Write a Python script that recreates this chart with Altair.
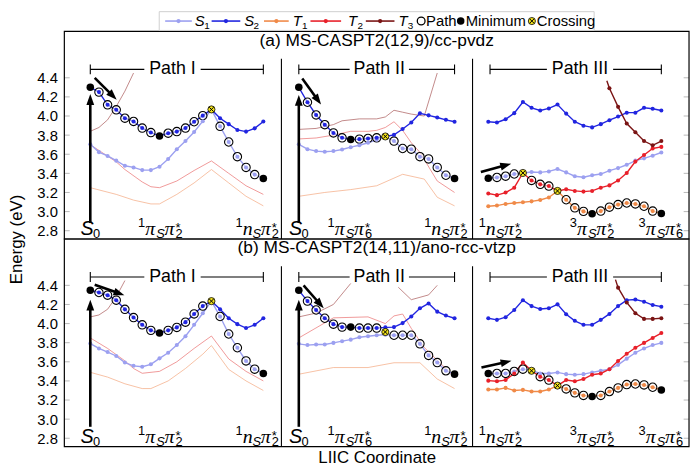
import math
import altair as alt
import pandas as pd

FONT = "Liberation Sans"
SERIF = "Liberation Serif"

SERIES = ["S1", "S2", "T1", "T2", "T3"]
COLORS = ["#9ca0f0", "#2125e0", "#f08a48", "#e8202a", "#7a1414"]
THIN_COLORS = ["#9ca0f0", "#2125e0", "#f3a47a", "#e96a6a", "#a65252"]

ROW_TITLES = {"a": "(a) MS-CASPT2(12,9)/cc-pvdz", "b": "(b) MS-CASPT2(14,11)/ano-rcc-vtzp"}
PATH_NAMES = ["Path I", "Path II", "Path III"]
Y_TICKS = [2.8, 3.0, 3.2, 3.4, 3.6, 3.8, 4.0, 4.2, 4.4]

# ---------------- row (a) : MS-CASPT2(12,9)/cc-pvdz ----------------
A1_S1 = [3.704, 3.622, 3.582, 3.533, 3.479, 3.462, 3.434, 3.434, 3.469, 3.551, 3.653,
         3.738, 3.833, 3.946, 4.069, 3.892, 3.728, 3.574, 3.462, 3.387, 3.346]
A1_S2 = [4.300, 4.250, 4.117, 4.065, 3.977, 3.943, 3.874, 3.827, 3.792, 3.820, 3.837,
         3.874, 3.940, 4.004, 4.069, 3.976, 3.915, 3.854, 3.837, 3.871, 3.943]
A2_S1 = [3.704, 3.653, 3.633, 3.626, 3.633, 3.650, 3.674, 3.694, 3.720, 3.751, 3.786,
         3.738, 3.660, 3.653, 3.574, 3.551, 3.462, 3.380, 3.346]
A2_S2 = [4.300, 4.144, 4.011, 3.909, 3.823, 3.772, 3.755, 3.758, 3.765, 3.772, 3.786,
         3.803, 3.864, 3.932, 4.028, 4.007, 3.984, 3.960, 3.940]
A3_S1 = [3.349, 3.357, 3.370, 3.393, 3.404, 3.414, 3.410, 3.420, 3.445, 3.410, 3.370,
         3.360, 3.380, 3.393, 3.428, 3.455, 3.490, 3.533, 3.557, 3.585, 3.618]
A3_S2 = [3.940, 3.932, 3.966, 4.030, 4.147, 4.086, 4.058, 4.079, 4.120, 4.025, 3.940,
         3.899, 3.881, 3.915, 3.956, 3.994, 4.035, 4.035, 4.086, 4.076, 4.058]
A3_T1 = [3.056, 3.063, 3.080, 3.090, 3.097, 3.107, 3.121, 3.148, 3.216, 3.124, 3.039,
         3.002, 2.978, 3.005, 3.046, 3.073, 3.090, 3.080, 3.056, 3.005, 2.981]
A3_T2 = [3.189, 3.172, 3.199, 3.250, 3.404, 3.326, 3.285, 3.267, 3.216, 3.233, 3.216,
         3.209, 3.216, 3.250, 3.274, 3.326, 3.404, 3.523, 3.592, 3.660, 3.677]
A3_T3_X = [13.7, 14, 15, 16, 17, 18, 19, 20]
A3_T3 = [4.37, 4.29, 4.096, 3.922, 3.830, 3.738, 3.694, 3.738]
# spectator states drawn as thin lines
A1_T1_X = [0, 3, 5, 7, 8, 10, 12, 14, 16, 18, 20]
A1_T1 = [3.25, 3.18, 3.12, 3.08, 3.08, 3.18, 3.30, 3.44, 3.30, 3.16, 3.06]
A1_T2_X = [0, 2, 3, 4, 6, 7, 8, 10, 12, 14, 16, 18, 20]
A1_T2 = [3.70, 3.58, 3.52, 3.44, 3.31, 3.26, 3.25, 3.32, 3.43, 3.53, 3.40, 3.27, 3.18]
A1_T3_X = [0, 1, 2, 3, 4, 5]
A1_T3 = [3.84, 3.88, 3.96, 4.10, 4.26, 4.45]
A2_T1_X = [0, 3, 6, 9, 12, 14.5, 16, 18]
A2_T1 = [3.16, 3.20, 3.23, 3.27, 3.39, 3.34, 3.15, 3.06]
A2_T2_X = [0, 2, 4, 6, 8, 9, 10, 11, 12, 13, 14, 16, 18]
A2_T2 = [3.76, 3.77, 3.80, 3.84, 3.84, 3.85, 3.88, 3.94, 3.85, 3.72, 3.62, 3.32, 3.20]
A2_T3_X = [0, 2, 4, 5, 7, 9, 10, 11, 12, 13, 14.5, 16]
A2_T3 = [3.86, 3.87, 3.91, 3.95, 3.97, 3.97, 3.99, 4.06, 4.04, 4.02, 4.00, 4.45]

# ---------------- row (b) : MS-CASPT2(14,11)/ano-rcc-vtzp ----------------
B1_S1 = [3.791, 3.740, 3.702, 3.661, 3.592, 3.558, 3.548, 3.574, 3.636, 3.695, 3.775,
         3.867, 3.987, 4.108, 4.235, 4.074, 3.891, 3.747, 3.609, 3.523, 3.478]
B1_S2 = [4.348, 4.325, 4.297, 4.245, 4.149, 4.063, 3.987, 3.929, 3.901, 3.929, 3.960,
         4.015, 4.101, 4.183, 4.235, 4.149, 4.056, 3.994, 3.953, 3.987, 4.056]
B2_S1 = [3.788, 3.775, 3.781, 3.781, 3.798, 3.816, 3.832, 3.857, 3.867, 3.878, 3.884,
         3.878, 3.878, 3.878, 3.788, 3.667, 3.592, 3.506, 3.471]
B2_S2 = [4.348, 4.235, 4.142, 4.056, 3.994, 3.963, 3.963, 3.953, 3.953, 3.953, 3.960,
         3.963, 4.005, 4.074, 4.160, 4.211, 4.125, 4.084, 4.056]
B3_S1 = [3.478, 3.478, 3.478, 3.499, 3.523, 3.510, 3.478, 3.478, 3.489, 3.471, 3.465,
         3.471, 3.489, 3.506, 3.523, 3.568, 3.633, 3.695, 3.740, 3.775, 3.798]
B3_S2 = [4.056, 4.039, 4.067, 4.142, 4.245, 4.183, 4.152, 4.160, 4.201, 4.098, 4.029,
         3.987, 3.987, 4.039, 4.101, 4.183, 4.245, 4.252, 4.229, 4.194, 4.177]
B3_T1 = [3.310, 3.310, 3.327, 3.300, 3.306, 3.289, 3.289, 3.310, 3.351, 3.316, 3.275,
         3.248, 3.238, 3.248, 3.289, 3.327, 3.362, 3.368, 3.358, 3.334, 3.306]
B3_T2 = [3.403, 3.396, 3.409, 3.478, 3.592, 3.506, 3.444, 3.409, 3.351, 3.409, 3.396,
         3.420, 3.465, 3.478, 3.523, 3.609, 3.685, 3.747, 3.798, 3.850, 3.901]
B3_T3_X = [14.7, 15, 16, 17, 18, 19, 20]
B3_T3 = [4.46, 4.376, 4.221, 4.108, 4.049, 4.049, 4.056]
B1_T1_X = [0, 2, 4, 6, 7, 9, 11, 13, 14, 16, 18, 20]
B1_T1 = [3.49, 3.44, 3.37, 3.32, 3.32, 3.40, 3.53, 3.68, 3.77, 3.52, 3.40, 3.30]
B1_T2_X = [0, 2, 4, 5, 6, 8, 10, 12, 14, 16, 18, 20]
B1_T2 = [3.85, 3.74, 3.61, 3.53, 3.48, 3.50, 3.60, 3.74, 3.87, 3.63, 3.50, 3.40]
B1_T3_X = [0, 1, 2, 3, 4]
B1_T3 = [4.07, 4.09, 4.15, 4.28, 4.45]
B2_T1_X = [0, 4, 8, 11, 14, 16, 18]
B2_T1 = [3.47, 3.54, 3.54, 3.59, 3.59, 3.42, 3.32]
B2_T2_X = [0, 4, 8, 10, 11, 12, 13, 14.5, 18]
B2_T2 = [3.85, 4.06, 4.07, 4.00, 4.08, 4.10, 3.95, 3.75, 3.44]
B2_T3_X = [0, 2, 4, 6]
B2_T3 = [4.07, 4.11, 4.20, 4.42]
B2_T3B_X = [11.5, 13, 15, 16]
B2_T3B = [4.38, 4.25, 4.30, 4.40]

MAIN = {
    "a": [(1, "S1", None, A1_S1), (1, "S2", None, A1_S2), (2, "S1", None, A2_S1), (2, "S2", None, A2_S2),
          (3, "S1", None, A3_S1), (3, "S2", None, A3_S2), (3, "T1", None, A3_T1), (3, "T2", None, A3_T2),
          (3, "T3", A3_T3_X, A3_T3)],
    "b": [(1, "S1", None, B1_S1), (1, "S2", None, B1_S2), (2, "S1", None, B2_S1), (2, "S2", None, B2_S2),
          (3, "S1", None, B3_S1), (3, "S2", None, B3_S2), (3, "T1", None, B3_T1), (3, "T2", None, B3_T2),
          (3, "T3", B3_T3_X, B3_T3)],
}
THIN = {
    "a": [(1, "T1", A1_T1_X, A1_T1), (1, "T2", A1_T2_X, A1_T2), (1, "T3", A1_T3_X, A1_T3),
          (2, "T1", A2_T1_X, A2_T1), (2, "T2", A2_T2_X, A2_T2), (2, "T3", A2_T3_X, A2_T3)],
    "b": [(1, "T1", B1_T1_X, B1_T1), (1, "T2", B1_T2_X, B1_T2), (1, "T3", B1_T3_X, B1_T3),
          (2, "T1", B2_T1_X, B2_T1), (2, "T2", B2_T2_X, B2_T2), (2, "T3", B2_T3_X, B2_T3),
          (2, "T3", B2_T3B_X, B2_T3B)],
}
PATH = {
    "a": [(1, "S2", [1, 2, 3, 4, 5, 6, 7, 9, 10, 11, 12, 13]), (1, "S1", [15, 16, 17, 18, 19]),
          (2, "S2", [1, 2, 3, 4, 5, 7, 8, 9]), (2, "S1", [11, 12, 13, 14, 15, 16, 17]),
          (3, "S1", [1, 2, 3]), (3, "T2", [5, 6, 7]),
          (3, "T1", [9, 10, 11, 13, 14, 15, 16, 17, 18, 19])],
    "b": [(1, "S2", [1, 2, 3, 4, 5, 6, 7, 9, 10, 11, 12, 13]), (1, "S1", [15, 16, 17, 18, 19]),
          (2, "S2", [1, 2, 3, 4, 5, 7, 8, 9]), (2, "S1", [11, 12, 13, 14, 15, 16, 17]),
          (3, "S1", [1, 2, 3, 4]), (3, "T2", [6, 7]),
          (3, "T1", [9, 10, 11, 13, 14, 15, 16, 17, 18, 19])],
}
MINIMA = [(1, "S2", 0), (1, "S2", 8), (1, "S1", 20), (2, "S2", 0), (2, "S2", 6), (2, "S1", 18),
          (3, "S1", 0), (3, "T1", 12), (3, "T1", 20)]
CROSS = {
    "a": [(1, 14, 4.069), (2, 10, 3.786), (3, 4, 3.404), (3, 8, 3.216)],
    "b": [(1, 14, 4.235), (2, 10, 3.912), (3, 5, 3.506), (3, 8, 3.351)],
}
# arrows: (panel, x0, e0, x1, e1)  -- tip at (x1, e1)
ARROWS = {
    "a": [(1, 0.0, 2.88, 0.0, 4.23), (2, 0.0, 2.88, 0.0, 4.22),
          (1, 0.51, 4.40, 3.05, 4.17), (2, 0.40, 4.393, 2.57, 4.12), (3, -0.86, 3.414, 2.64, 3.50)],
    "b": [(1, 0.0, 2.92, 0.0, 4.25), (2, 0.0, 2.92, 0.0, 4.25),
          (1, 0.51, 4.407, 3.94, 4.297), (2, 0.55, 4.40, 2.88, 4.16), (3, -0.79, 3.54, 2.68, 3.61)],
}
BRACKET_START = [0.0, 0.0, 0.2]
BRACKET_END = [20.0, 18.0, 20.0]
BRACKET_TEXT_X = [9.5, 9.3, 10.6]
BRACKET_GAP_PX = [57, 60, 67]
BRACKET_E = 4.488
# bottom state labels: (panel, centre, kind)
STATE_LABELS = [(1, 0.0, "S0"), (1, 8.1, ("1", "π", "2")), (1, 19.3, ("1", "n", "2")),
                (2, 0.0, "S0"), (2, 5.9, ("1", "π", "6")), (2, 17.0, ("1", "n", "2")),
                (3, 1.4, ("1", "n", "2")), (3, 12.0, ("3", "π", "2")), (3, 19.95, ("3", "π", "6"))]

# ---------------- layout ----------------
X_MIN, X_MAX = -3.0, 69.2
Y_MIN, Y_MAX = 2.713, 4.885
ROW_SPAN = Y_MAX - Y_MIN
ROW_OFF = {"a": ROW_SPAN, "b": 0.0}
PLOT_W = 632
ROW_PX = 210
LEG_PX = 21
PLOT_H = 2 * ROW_PX + LEG_PX
SY = ROW_PX / ROW_SPAN
TOP = Y_MAX + ROW_SPAN + LEG_PX / SY
COL_OFFSET = [0.0, 24.1, 46.0]
SEPARATORS = [22.09, 44.18]
SEP_TOP = 4.60
SX = PLOT_W / (X_MAX - X_MIN)

# legend (pixel positions measured from the left / top of the plot area)
LEG_BOX = [96, 536, 1, 20]
LEG_Y = 10.5
LEG_LINE_X0 = [102, 149, 202, 249, 305]
LEG_LINE_X1 = [129, 178, 227, 280, 334]
LEG_LABEL_X = [132, 182, 231, 287, 338]
LEG_LETTERS = ["S", "S", "T", "T", "T"]
LEG_SUBS = ["1", "2", "1", "2", "3"]
LEG_SYM_X = [361, 401, 473]
LEG_SYM_TEXT = ["Path", "Minimum", "Crossing"]

HEAD = "M0,-1L0.72,1L-0.72,1Z"
XSHAPE = "M-0.62,-0.62L0.62,0.62M-0.62,0.62L0.62,-0.62"
YELLOW = "#f2e21c"

cscale = alt.Scale(domain=SERIES, range=COLORS)
thin_scale = alt.Scale(domain=SERIES, range=THIN_COLORS)
xsc = alt.Scale(domain=[X_MIN, X_MAX], nice=False, zero=False)
ysc = alt.Scale(domain=[Y_MIN, TOP], nice=False, zero=False)

tick_vals = sorted(round(t + ROW_OFF[r], 4) for r in ["a", "b"] for t in Y_TICKS)
label_expr = f"format(datum.value > {Y_MAX} ? datum.value - {ROW_SPAN} : datum.value, '.1f')"
Y_AXIS = alt.Axis(values=tick_vals, labelExpr=label_expr, labelFontSize=15, labelPadding=7,
                  labelColor="black", labelFont=FONT, ticks=False, domain=False, grid=False,
                  title="Energy (eV)", titleFontSize=17, titleFontWeight="normal", titleColor="black",
                  titleFont=FONT, titleX=-48, titleY=LEG_PX + ROW_PX, titleAlign="center",
                  titleBaseline="middle")
X_AXIS = alt.Axis(title="LIIC Coordinate", labels=False, ticks=False, domain=False, grid=False,
                  titleFontSize=17, titleFontWeight="normal", titlePadding=3, titleColor="black",
                  titleFont=FONT)


def gx(panel, i):
    return COL_OFFSET[panel - 1] + i


def px_x(px):
    return X_MIN + px / SX


def px_y(py):
    return TOP - py / SY


def series_value(r, panel, s, i):
    for (p, ss, xs, vals) in MAIN[r]:
        if p == panel and ss == s:
            if xs is None:
                return vals[i]
            return vals[xs.index(i)]
    raise KeyError


def label_tokens(kind):
    if kind == "S0":
        return [("S", "main", "sans_it", True), ("0", "sub", "up", True)]
    sup, letter, sub = kind
    return [(sup, "sup", "up", True), (letter, "main", "serif_it", True), ("S", "sub", "sans_it", True),
            ("π", "main", "serif_it", True), ("*", "star", "up", False), (sub, "sub", "up", True)]


def EX(f="gx"):
    return alt.X(f"{f}:Q", scale=xsc, axis=X_AXIS)


def EY(f="y"):
    return alt.Y(f"{f}:Q", scale=ysc, axis=Y_AXIS)


layers = []

# ---- inner grey ticks ----
tick_rows = []
for v in tick_vals:
    tick_rows.append(dict(gx=X_MIN, gx2=X_MIN + 0.62, y=v))
    tick_rows.append(dict(gx=X_MAX - 0.62, gx2=X_MAX, y=v))
layers.append(alt.Chart(pd.DataFrame(tick_rows)).mark_rule(color="#b8b8b8", strokeWidth=1).encode(
    x=EX(), x2="gx2:Q", y=EY()))

# ---- thin spectator lines ----
thin_rows = []
for r in ["a", "b"]:
    for k, (p, s, xs, vals) in enumerate(THIN[r]):
        for xi, v in zip(xs, vals):
            thin_rows.append(dict(gx=gx(p, xi), y=v + ROW_OFF[r], state=s, key=f"{r}t{k}"))
layers.append(alt.Chart(pd.DataFrame(thin_rows)).mark_line(strokeWidth=0.8, opacity=0.85).encode(
    x=EX(), y=EY(), stroke=alt.Stroke("state:N", scale=thin_scale, legend=None), detail="key:N"))

# ---- main lines ----
main_rows = []
for r in ["a", "b"]:
    for k, (p, s, xs, vals) in enumerate(MAIN[r]):
        xs_ = xs if xs is not None else list(range(len(vals)))
        for xi, v in zip(xs_, vals):
            main_rows.append(dict(gx=gx(p, xi), y=v + ROW_OFF[r], series=s, key=f"{r}m{k}",
                                  dot=float(xi).is_integer()))
mdf = pd.DataFrame(main_rows)
layers.append(alt.Chart(mdf).mark_line(strokeWidth=1.4).encode(
    x=EX(), y=EY(), color=alt.Color("series:N", scale=cscale, legend=None), detail="key:N"))

# ---- path rings ----
path_rows = []
for r in ["a", "b"]:
    for (p, s, idxs) in PATH[r]:
        for i in idxs:
            path_rows.append(dict(gx=gx(p, i), y=series_value(r, p, s, i) + ROW_OFF[r]))
layers.append(alt.Chart(pd.DataFrame(path_rows)).mark_point(
    shape="circle", size=72, fill="white", fillOpacity=0.55, stroke="black", strokeWidth=1.1,
    opacity=1).encode(x=EX(), y=EY()))

# ---- dots ----
layers.append(alt.Chart(mdf[mdf["dot"]]).mark_circle(size=17, opacity=1).encode(
    x=EX(), y=EY(), color=alt.Color("series:N", scale=cscale, legend=None)))

# ---- minima ----
min_rows = [dict(gx=gx(p, i), y=series_value(r, p, s, i) + ROW_OFF[r])
            for r in ["a", "b"] for (p, s, i) in MINIMA]
layers.append(alt.Chart(pd.DataFrame(min_rows)).mark_circle(size=58, color="black", opacity=1).encode(
    x=EX(), y=EY()))

# ---- crossings ----
cdf = pd.DataFrame([dict(gx=gx(p, i), y=e + ROW_OFF[r]) for r in ["a", "b"] for (p, i, e) in CROSS[r]])
layers.append(alt.Chart(cdf).mark_point(shape="circle", size=52, fill=YELLOW, fillOpacity=1,
                                        stroke="black", strokeWidth=0.8, opacity=1).encode(x=EX(), y=EY()))
layers.append(alt.Chart(cdf).mark_point(shape=XSHAPE, size=52, stroke="black", strokeWidth=1,
                                        opacity=1).encode(x=EX(), y=EY()))

# ---- arrows ----
shaft_rows, head_rows = [], []
for r in ["a", "b"]:
    for (p, x0, e0, x1, e1) in ARROWS[r]:
        a0, a1 = gx(p, x0), gx(p, x1)
        dxp = (a1 - a0) * SX
        dyp = -(e1 - e0) * SY
        L = math.hypot(dxp, dyp)
        ux, uy = dxp / L, dyp / L
        hl = 11.0
        hx = a1 - ux * hl / 2 / SX
        hy = e1 + uy * hl / 2 / SY
        ex_ = a1 - ux * hl * 0.8 / SX
        ey_ = e1 + uy * hl * 0.8 / SY
        ang = math.degrees(math.atan2(ux, -uy)) % 360
        shaft_rows.append(dict(gx=a0, gx2=ex_, y=e0 + ROW_OFF[r], y2=ey_ + ROW_OFF[r]))
        head_rows.append(dict(gx=hx, y=hy + ROW_OFF[r], ang=ang))
layers.append(alt.Chart(pd.DataFrame(shaft_rows)).mark_rule(strokeWidth=2.6, color="black").encode(
    x=EX(), x2="gx2:Q", y=EY(), y2="y2:Q"))
layers.append(alt.Chart(pd.DataFrame(head_rows)).mark_point(
    shape=HEAD, size=121, filled=True, color="black", opacity=1).encode(
    x=EX(), y=EY(), angle=alt.Angle("ang:Q", scale=None)))

# ---- brackets, separators, titles ----
rule_rows, txt_rows = [], []
tick_h = 5 / SY
for r in ["a", "b"]:
    o = ROW_OFF[r]
    for k in range(3):
        p = k + 1
        s0, s1 = gx(p, BRACKET_START[k]), gx(p, BRACKET_END[k])
        c = gx(p, BRACKET_TEXT_X[k])
        g = BRACKET_GAP_PX[k] / 2 / SX
        yb = BRACKET_E + o
        rule_rows.append(dict(gx=s0, gx2=c - g, y=yb, y2=yb))
        rule_rows.append(dict(gx=c + g, gx2=s1, y=yb, y2=yb))
        rule_rows.append(dict(gx=s0, gx2=s0, y=yb - tick_h, y2=yb + tick_h))
        rule_rows.append(dict(gx=s1, gx2=s1, y=yb - tick_h, y2=yb + tick_h))
        txt_rows.append(dict(gx=c, y=yb, text=PATH_NAMES[k], fs=18))
    for sxp in SEPARATORS:
        rule_rows.append(dict(gx=sxp, gx2=sxp, y=Y_MIN + o, y2=SEP_TOP + o))
    txt_rows.append(dict(gx=(X_MIN + X_MAX) / 2, y=Y_MAX + o - 9.5 / SY, text=ROW_TITLES[r], fs=17.5))
layers.append(alt.Chart(pd.DataFrame(rule_rows)).mark_rule(strokeWidth=1.1, color="black").encode(
    x=EX(), x2="gx2:Q", y=EY(), y2="y2:Q"))
layers.append(alt.Chart(pd.DataFrame(txt_rows)).mark_text(
    font=FONT, align="center", baseline="middle", color="black").encode(
    x=EX(), y=EY(), text="text:N", size=alt.Size("fs:Q", scale=None)))

frame_df = pd.DataFrame([dict(gx=X_MIN, gx2=X_MAX, y=Y_MIN + ROW_OFF[r], y2=Y_MAX + ROW_OFF[r])
                         for r in ["a", "b"]])
layers.append(alt.Chart(frame_df).mark_rect(filled=False, stroke="black", strokeWidth=1.2).encode(
    x=EX(), x2="gx2:Q", y=EY(), y2="y2:Q"))

# ---- state labels (typeset piecewise) ----
MAIN_FS, SMALL_FS = 20, 13
width_em = {"π": 0.56, "n": 0.5, "S": 0.64, "*": 0.45}
base_px = {"main": 4.0, "sub": 0.6, "sup": 12.0, "star": 7.0}
piece_rows = []
for r in ["a", "b"]:
    for (p, centre, kind) in STATE_LABELS:
        toks = label_tokens(kind)
        widths = []
        for (t, role, style, adv) in toks:
            fs = MAIN_FS if role == "main" else SMALL_FS
            widths.append(width_em.get(t, 0.556) * fs)
        total = sum(w for w, tk in zip(widths, toks) if tk[3])
        off = -total / 2
        for (t, role, style, adv), w in zip(toks, widths):
            fs = MAIN_FS if role == "main" else SMALL_FS
            piece_rows.append(dict(gx=gx(p, centre) + off / SX, y=Y_MIN + ROW_OFF[r] + base_px[role] / SY,
                                   text=t, fs=fs, style=style))
            if adv:
                off += w
pdf = pd.DataFrame(piece_rows)
for style, font, fstyle in [("sans_it", FONT, "italic"), ("serif_it", SERIF, "italic"), ("up", FONT, "normal")]:
    layers.append(alt.Chart(pdf[pdf["style"] == style]).mark_text(
        align="left", baseline="alphabetic", font=font, fontStyle=fstyle, color="black").encode(
        x=EX(), y=EY(), text="text:N", size=alt.Size("fs:Q", scale=None)))

# ---- legend (above the frame) ----
layers.append(alt.Chart(pd.DataFrame([dict(gx=px_x(LEG_BOX[0]), gx2=px_x(LEG_BOX[1]),
                                           y=px_y(LEG_BOX[2]), y2=px_y(LEG_BOX[3]))])).mark_rect(
    filled=False, stroke="#cfcfcf", strokeWidth=1).encode(x=EX(), x2="gx2:Q", y=EY(), y2="y2:Q"))
ldf = pd.DataFrame([dict(gx=px_x(a), gx2=px_x(b), gm=px_x((a + b) / 2), y=px_y(LEG_Y), series=s)
                    for a, b, s in zip(LEG_LINE_X0, LEG_LINE_X1, SERIES)])
layers.append(alt.Chart(ldf).mark_rule(strokeWidth=1.6).encode(
    x=EX(), x2="gx2:Q", y=EY(), color=alt.Color("series:N", scale=cscale, legend=None)))
layers.append(alt.Chart(ldf).mark_circle(size=18, opacity=1).encode(
    x=EX("gm"), y=EY(), color=alt.Color("series:N", scale=cscale, legend=None)))
letters = pd.DataFrame([dict(gx=px_x(x), y=px_y(LEG_Y + 5), text=t) for x, t in zip(LEG_LABEL_X, LEG_LETTERS)])
layers.append(alt.Chart(letters).mark_text(fontSize=15, font=FONT, fontStyle="italic", align="left",
                                           baseline="alphabetic", color="black").encode(
    x=EX(), y=EY(), text="text:N"))
subs = pd.DataFrame([dict(gx=px_x(x + 9.5), y=px_y(LEG_Y + 8), text=t) for x, t in zip(LEG_LABEL_X, LEG_SUBS)])
layers.append(alt.Chart(subs).mark_text(fontSize=10, font=FONT, align="left",
                                        baseline="alphabetic", color="black").encode(
    x=EX(), y=EY(), text="text:N"))
sym = pd.DataFrame([dict(gx=px_x(x), y=px_y(LEG_Y)) for x in LEG_SYM_X])
layers.append(alt.Chart(sym.iloc[[0]]).mark_point(shape="circle", size=62, stroke="black",
                                                   strokeWidth=1.3, opacity=1).encode(x=EX(), y=EY()))
layers.append(alt.Chart(sym.iloc[[1]]).mark_circle(size=58, color="black", opacity=1).encode(x=EX(), y=EY()))
layers.append(alt.Chart(sym.iloc[[2]]).mark_point(shape="circle", size=52, fill=YELLOW, fillOpacity=1,
                                                   stroke="black", strokeWidth=0.8, opacity=1).encode(
    x=EX(), y=EY()))
layers.append(alt.Chart(sym.iloc[[2]]).mark_point(shape=XSHAPE, size=52, stroke="black", strokeWidth=1,
                                                   opacity=1).encode(x=EX(), y=EY()))
stext = pd.DataFrame([dict(gx=px_x(x + 5), y=px_y(LEG_Y + 5), text=t) for x, t in zip(LEG_SYM_X, LEG_SYM_TEXT)])
layers.append(alt.Chart(stext).mark_text(fontSize=15, font=FONT, align="left", baseline="alphabetic",
                                         color="black").encode(x=EX(), y=EY(), text="text:N"))

chart = alt.layer(*layers).properties(
    width=PLOT_W, height=PLOT_H,
    autosize=alt.AutoSizeParams(type="none"),
    padding={"left": 57, "top": 0, "right": 2, "bottom": 22},
).configure(font=FONT).configure_view(strokeWidth=0)

chart.save("out.html", embed_options={"renderer": "svg", "actions": False})
